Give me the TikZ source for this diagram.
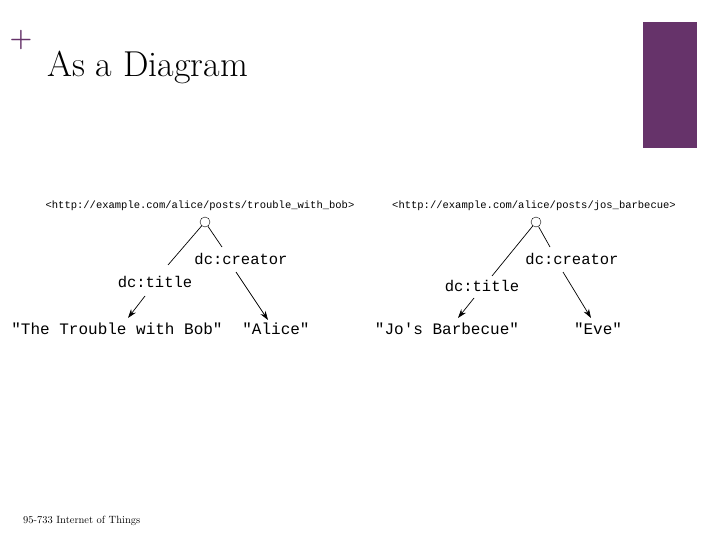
\documentclass[tikz,border=0pt]{standalone}
\usepackage{fontspec}
\setmonofont{Liberation Mono}
\usetikzlibrary{arrows.meta}
\definecolor{plum}{HTML}{66336A}
\begin{document}
\begin{tikzpicture}[x=1pt,y=-1pt,
  uri/.style={font=\ttfamily\fontsize{10.5}{12}\selectfont,inner sep=1pt},
  lbl/.style={font=\ttfamily\fontsize{15.5}{17}\selectfont,inner sep=1pt},
  leaf/.style={font=\ttfamily\fontsize{16}{18}\selectfont,inner sep=1pt},
  res/.style={circle,draw,fill=white,minimum size=10pt,inner sep=0pt},
  edge/.style={draw,line width=0.7pt},
  arr/.style={edge,-{Stealth[length=9pt,width=6pt]}}]
\useasboundingbox (0,0) rectangle (720,540);
\node[font=\bfseries\fontsize{26}{26}\selectfont,text=plum] (plus) at (21,40) {+};
\node[anchor=base west,font=\fontsize{36}{38}\selectfont,inner sep=0pt] (title) at (47,77) {As a Diagram};
\fill[plum] (643,22) rectangle (697,148);
\node[anchor=base west,font=\fontsize{10.5}{11}\selectfont,inner sep=0pt] (foot) at (23,523) {95-733 Internet of Things};
% left graph
\node[uri] (u1) at (200,206) {<http://example.com/alice/posts/trouble\_with\_bob>};
\node[res] (c1) at (205,222) {};
\node[lbl] (t1) at (155,282) {dc:title};
\node[lbl] (k1) at (241,259) {dc:creator};
\node[leaf] (l1) at (117,329) {"The Trouble with Bob"};
\node[leaf] (a1) at (276,329) {"Alice"};
\coordinate (e1) at (168,265);
\coordinate (f1) at (222,247);
\coordinate (g1) at (145,296);
\coordinate (h1) at (236,272);
\coordinate (m1) at (128,318);
\coordinate (n1) at (268,320);
\draw[edge] (c1) -- (e1);
\draw[edge] (c1) -- (f1);
\draw[arr] (g1) -- (m1);
\draw[arr] (h1) -- (n1);
% right graph
\node[uri] (u2) at (534,206) {<http://example.com/alice/posts/jos\_barbecue>};
\node[res] (c2) at (536,222) {};
\node[lbl] (t2) at (482,286) {dc:title};
\node[lbl] (k2) at (572,259) {dc:creator};
\node[leaf] (l2) at (447,329) {"Jo's Barbecue"};
\node[leaf] (a2) at (598,329) {"Eve"};
\coordinate (e2) at (492,276);
\coordinate (f2) at (550,247);
\coordinate (g2) at (474,298);
\coordinate (h2) at (563,272);
\coordinate (m2) at (458,318);
\coordinate (n2) at (591,318);
\draw[edge] (c2) -- (e2);
\draw[edge] (c2) -- (f2);
\draw[arr] (g2) -- (m2);
\draw[arr] (h2) -- (n2);
\end{tikzpicture}
\end{document}
